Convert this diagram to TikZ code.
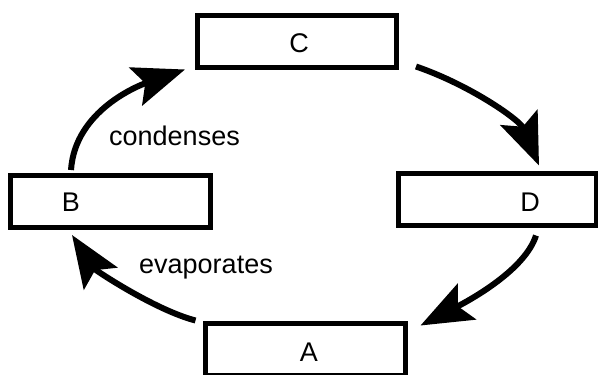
\documentclass[tikz,border=0pt]{standalone}
\usepackage{fontspec}
\setmainfont{Liberation Sans}
\usetikzlibrary{arrows.meta}

\tikzset{
  box/.style={draw, line width=5pt, minimum width=#1, minimum height=52pt, inner sep=0pt},
  word/.style={font=\fontsize{27}{32}\selectfont, inner sep=0pt},
  cyclearrow/.style={line width=6pt, -{Stealth[length=52pt,width=40pt,inset=10pt]}}
}

\begin{document}
\begin{tikzpicture}[x=1pt,y=-1pt]
\useasboundingbox (0,0) rectangle (598,375);

% Boxes
\node[box=199pt] (C) at (297,41) {};
\node[box=200pt] (B) at (110,201.5) {};
\node[box=198pt] (D) at (497,199) {};
\node[box=200pt] (A) at (305,349) {};

% Letters in the boxes
\node[word] (Clabel) at (299,43) {C};
\node[word] (Blabel) at (71,202) {B};
\node[word] (Dlabel) at (530,202) {D};
\node[word] (Alabel) at (309,352) {A};

% Words on the arrows
\node[word, anchor=base west] (cond) at (109,145) {condenses};
\node[word, anchor=base west] (evap) at (139,273) {evaporates};

% Arrows round the cycle
\draw[cyclearrow] ([shift={(-39,-3)}]B.north) .. controls (75,110) and (140,85) .. ([shift={(-10,0)}]C.south west);
\draw[cyclearrow] ([shift={(17,-3)}]C.south east) .. controls (470,85) and (520,120) .. ([shift={(42,-5)}]D.north);
\draw[cyclearrow] ([shift={(39,8)}]D.south) .. controls (525,270) and (470,300) .. ([shift={(13,5)}]A.north east);
\draw[cyclearrow] ([shift={(-7,0)}]A.north west) .. controls (155,310) and (95,270) .. ([shift={(-38,5)}]B.south);

\end{tikzpicture}
\end{document}
